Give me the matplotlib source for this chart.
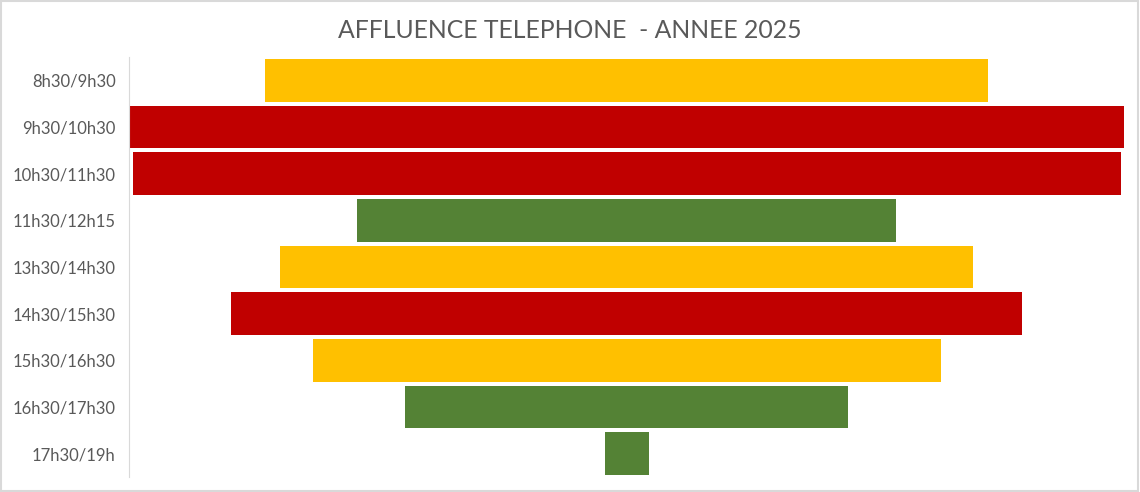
import matplotlib.pyplot as plt
from matplotlib.patches import Rectangle

# Tranches horaires et affluence (valeurs relatives)
creneaux = ["8h30/9h30", "9h30/10h30", "10h30/11h30", "11h30/12h15",
            "13h30/14h30", "14h30/15h30", "15h30/16h30", "16h30/17h30",
            "17h30/19h"]
appels = [723, 995, 988, 539, 693, 791, 628, 443, 44]
couleurs = ["#FFC000", "#C00000", "#C00000", "#548235", "#FFC000",
            "#C00000", "#FFC000", "#548235", "#548235"]

plt.rcParams['font.family'] = ['Lato', 'DejaVu Sans']

fig = plt.figure(figsize=(11.4, 4.92), dpi=100)
ax = fig.add_axes([129 / 1140, 1 - 477 / 492, (1124 - 129) / 1140, 420 / 492])

maxi = max(appels)
gauche = [(maxi - v) / 2 for v in appels]
ax.barh(range(len(creneaux)), appels, left=gauche, height=0.92, color=couleurs)

ax.set_xlim(0, maxi)
ax.set_ylim(len(creneaux) - 0.5, -0.5)
ax.set_yticks(range(len(creneaux)))
ax.set_yticklabels(creneaux, fontsize=12, color="#595959")
ax.tick_params(axis='y', length=0, pad=9.5)
ax.set_xticks([])
for s in ["top", "right", "bottom"]:
    ax.spines[s].set_visible(False)
ax.spines["left"].set_color("#D9D9D9")

fig.text(0.5, 1 - 31 / 492, "AFFLUENCE TELEPHONE  - ANNEE 2025",
         ha="center", va="center", fontsize=17.8, color="#595959")

# cadre gris autour du graphique
fig.patches.append(Rectangle((0.001, 0.002), 0.997, 0.995, transform=fig.transFigure,
                             fill=False, edgecolor="#D9D9D9", linewidth=1.5))

fig.savefig("out.png", dpi=100)
